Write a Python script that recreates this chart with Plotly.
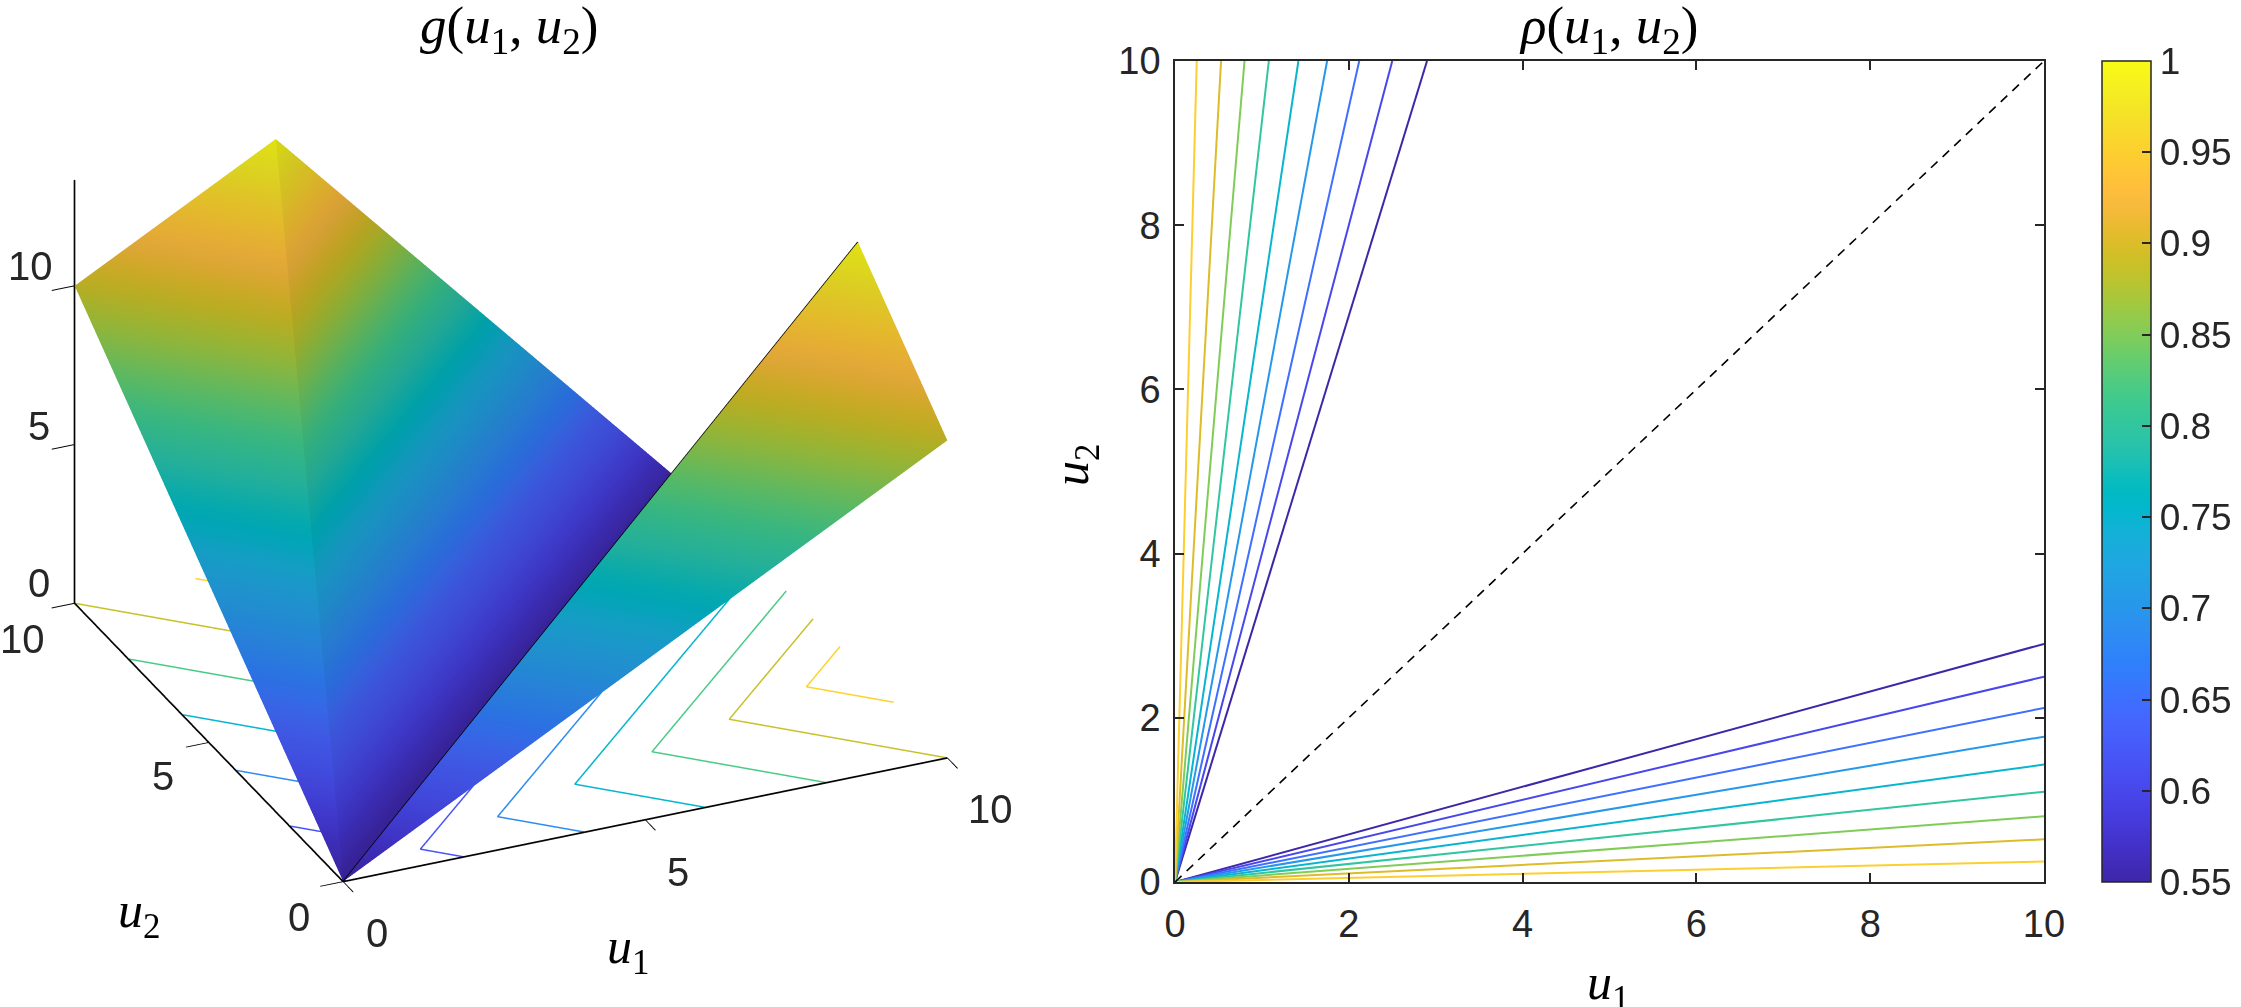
import plotly.graph_objects as go
from plotly.colors import sample_colorscale

PARULA_RGB = [
(0.2422,0.1504,0.6603),(0.2504,0.1650,0.7076),(0.2578,0.1818,0.7511),(0.2647,0.1978,0.7952),
(0.2706,0.2147,0.8364),(0.2751,0.2342,0.8710),(0.2783,0.2559,0.8991),(0.2803,0.2782,0.9221),
(0.2813,0.3006,0.9414),(0.2810,0.3228,0.9579),(0.2795,0.3447,0.9717),(0.2760,0.3667,0.9829),
(0.2699,0.3892,0.9906),(0.2602,0.4123,0.9952),(0.2440,0.4358,0.9988),(0.2206,0.4603,0.9973),
(0.1963,0.4847,0.9892),(0.1834,0.5074,0.9798),(0.1786,0.5289,0.9682),(0.1764,0.5499,0.9520),
(0.1687,0.5703,0.9359),(0.1540,0.5902,0.9218),(0.1460,0.6091,0.9079),(0.1380,0.6276,0.8973),
(0.1248,0.6459,0.8883),(0.1113,0.6635,0.8763),(0.0952,0.6798,0.8598),(0.0689,0.6948,0.8394),
(0.0297,0.7082,0.8163),(0.0036,0.7203,0.7917),(0.0067,0.7312,0.7660),(0.0433,0.7411,0.7394),
(0.0964,0.7500,0.7120),(0.1408,0.7584,0.6842),(0.1717,0.7670,0.6554),(0.1938,0.7758,0.6251),
(0.2161,0.7843,0.5923),(0.2470,0.7918,0.5567),(0.2906,0.7973,0.5188),(0.3406,0.8008,0.4789),
(0.3909,0.8029,0.4354),(0.4456,0.8024,0.3909),(0.5044,0.7993,0.3480),(0.5616,0.7942,0.3045),
(0.6174,0.7876,0.2612),(0.6720,0.7793,0.2227),(0.7242,0.7698,0.1910),(0.7738,0.7598,0.1646),
(0.8203,0.7498,0.1535),(0.8634,0.7406,0.1596),(0.9035,0.7330,0.1774),(0.9393,0.7288,0.2100),
(0.9728,0.7298,0.2394),(0.9956,0.7434,0.2371),(0.9970,0.7659,0.2199),(0.9952,0.7893,0.2028),
(0.9892,0.8136,0.1885),(0.9786,0.8386,0.1766),(0.9676,0.8639,0.1643),(0.9610,0.8890,0.1537),
(0.9597,0.9135,0.1423),(0.9628,0.9373,0.1265),(0.9691,0.9606,0.1064),(0.9769,0.9839,0.0805),
]
N = len(PARULA_RGB) - 1
parula = [[i/N, f"rgb({r*255:.0f},{g*255:.0f},{b*255:.0f})"] for i, (r, g, b) in enumerate(PARULA_RGB)]

def shaded(s):
    return [[i/N, f"rgb({r*255*s:.0f},{g*255*s:.0f},{b*255*s:.0f})"] for i, (r, g, b) in enumerate(PARULA_RGB)]

# left panel: surface vertices
surf_u1 = [0, 0, 3.33, 10, 10, 10]
surf_u2 = [0, 10, 10, 10, 3.33, 0]
surf_g  = [0, 10, 13.33, 0, 13.33, 10]
outer_i, outer_j, outer_k = [0, 0], [1, 4], [2, 5]
inner_i, inner_j, inner_k = [0, 0], [2, 3], [3, 4]

# left panel: contour levels on the floor
floor_levels = [2, 4, 6, 8, 10, 12]
floor_u1 = [[2, 1.5, 10], [4, 3, 10], [6, 4.5, 10], [8, 6, 10], [10, 7.5, 10], [10, 9, 10]]
floor_u2 = [[0, 0.5, 9], [0, 1, 8], [0, 1.5, 7], [0, 2, 6], [0, 2.5, 5], [2, 3, 4]]

# left panel: axis end points
axis_x = [[0, 10], [0, 0], [0, 0]]
axis_y = [[0, 0], [0, 10], [10, 10]]
axis_z = [[0, 0], [0, 0], [0, 13.33]]

# right panel: rays
rho_levels = [0.55, 0.60, 0.65, 0.70, 0.75, 0.80, 0.85, 0.90, 0.95]
lower_end_u2 = [2.90, 2.50, 2.12, 1.77, 1.43, 1.10, 0.80, 0.52, 0.25]
upper_end_u1 = [2.90, 2.50, 2.12, 1.75, 1.42, 1.08, 0.80, 0.53, 0.25]
diag_u = [0, 10]
cbar_ticks = [0.55, 0.6, 0.65, 0.7, 0.75, 0.8, 0.85, 0.9, 0.95, 1]
cbar_labels = ["0.55", "0.6", "0.65", "0.7", "0.75", "0.8", "0.85", "0.9", "0.95", "1"]
axis_ticks = [0, 2, 4, 6, 8, 10]
tick_3d = [0, 5, 10]

W, H = 2241, 1007
INK = "#262626"
TICK = dict(family="Liberation Sans", size=38, color=INK)
CBTICK = dict(family="Liberation Sans", size=37, color=INK)
TICK3 = dict(family="Liberation Sans", size=40, color=INK)
SERIF = "Liberation Serif"
LABEL = dict(family=SERIF, size=50, color="black")
TITLE = dict(family=SERIF, size=53, color="black")
ASPECT = 1.41
FLAT = dict(ambient=1, diffuse=0, specular=0, roughness=1, fresnel=0)

fig = go.Figure()
fig.add_trace(go.Mesh3d(x=surf_u1, y=surf_u2, z=surf_g, i=outer_i, j=outer_j, k=outer_k,
    intensity=surf_g, colorscale=shaded(0.90), cmin=0, cmax=13.33, showscale=False, flatshading=True,
    lighting=FLAT, hoverinfo="skip", scene="scene"))
fig.add_trace(go.Mesh3d(x=surf_u1, y=surf_u2, z=surf_g, i=inner_i, j=inner_j, k=inner_k,
    intensity=surf_g, colorscale=shaded(0.86), cmin=0, cmax=13.33, showscale=False, flatshading=True,
    lighting=FLAT, hoverinfo="skip", scene="scene"))
for lev, a, b in zip(floor_levels, floor_u1, floor_u2):
    col = sample_colorscale(parula, [lev/13.33])[0]
    fig.add_trace(go.Scatter3d(x=a, y=b, z=[0]*3, mode="lines", line=dict(color=col, width=3), showlegend=False, hoverinfo="skip", scene="scene"))
    fig.add_trace(go.Scatter3d(x=b, y=a, z=[0]*3, mode="lines", line=dict(color=col, width=3), showlegend=False, hoverinfo="skip", scene="scene"))
fig.add_trace(go.Scatter3d(x=[surf_u1[0], surf_u1[4]], y=[surf_u2[0], surf_u2[4]], z=[surf_g[0], surf_g[4]], mode="lines",
    line=dict(color="black", width=3), showlegend=False, hoverinfo="skip", scene="scene"))
for ax_a, ax_b, ax_c in zip(axis_x, axis_y, axis_z):
    fig.add_trace(go.Scatter3d(x=ax_a, y=ax_b, z=ax_c, mode="lines", line=dict(color=INK, width=3.5), showlegend=False, hoverinfo="skip", scene="scene"))

for lev, s in zip(rho_levels, lower_end_u2):
    col = sample_colorscale(parula, [(lev-0.55)/0.45])[0]
    fig.add_trace(go.Scatter(x=[0, 10], y=[0, s], mode="lines", line=dict(color=col, width=2), showlegend=False, hoverinfo="skip", xaxis="x", yaxis="y"))
for lev, s in zip(rho_levels, upper_end_u1):
    col = sample_colorscale(parula, [(lev-0.55)/0.45])[0]
    fig.add_trace(go.Scatter(x=[0, s], y=[0, 10], mode="lines", line=dict(color=col, width=2), showlegend=False, hoverinfo="skip", xaxis="x", yaxis="y"))
fig.add_trace(go.Scatter(x=diag_u, y=diag_u, mode="lines", line=dict(color="black", width=1.6, dash="9px,7px"), showlegend=False, hoverinfo="skip", xaxis="x", yaxis="y"))
fig.add_trace(go.Scatter(x=[10]*9, y=lower_end_u2, mode="markers", showlegend=False, hoverinfo="skip", xaxis="x", yaxis="y",
    marker=dict(size=1, color=rho_levels, colorscale=parula, cmin=0.55, cmax=1, showscale=True,
        colorbar=dict(x=2102/W, xanchor="left", xpad=0, ypad=0, y=(H-882)/H, yanchor="bottom", lenmode="pixels", len=821,
            thicknessmode="pixels", thickness=49, tickvals=cbar_ticks, ticktext=cbar_labels, ticks="inside", ticklen=9,
            tickcolor=INK, tickwidth=1.5, outlinecolor=INK, outlinewidth=1.5, tickfont=CBTICK, tickprefix="\u00a0"))))

def ax3(tv, rng):
    return dict(range=rng, tickvals=tv, showticklabels=False, showgrid=False, zeroline=False, showbackground=False,
                showline=True, linecolor="black", linewidth=3, ticks="outside", ticklen=25, tickcolor="black", tickwidth=2,
                showspikes=False, title=dict(text=""), autorange=False)

def scene_tick(x, y, z, text, dx, dy):
    return dict(x=x, y=y, z=z, text=text, showarrow=False, xshift=dx, yshift=dy, font=TICK3, xanchor="center", yanchor="middle")

scene_ann = []
for t, dx, dy in zip(tick_3d, [34, 33, 43], [-51, -52, -51]):
    scene_ann.append(scene_tick(t, 0, 0, str(t), dx, dy))
for t, dx, dy in zip(tick_3d, [-44, -46, -52], [-35, -34, -36]):
    scene_ann.append(scene_tick(0, t, 0, str(t), dx, dy))
for t, dx, dy in zip(tick_3d, [-36, -36, -44], [20, 19, 20]):
    scene_ann.append(scene_tick(0, 10, t, str(t), dx, dy))

def paper_text(text, x, y, font, angle=0):
    return dict(text=text, x=x/W, y=1-y/H, xref="paper", yref="paper", showarrow=False, font=font, xanchor="center", yanchor="middle", textangle=angle)

fig.update_layout(
    width=W, height=H, margin=dict(l=0, r=0, t=0, b=0, autoexpand=False), paper_bgcolor="white", plot_bgcolor="white", showlegend=False,
    font=dict(family="Liberation Sans", color=INK),
    scene=dict(domain=dict(x=[0, 1022/W], y=[1-938/H, 1]),
        xaxis=ax3(tick_3d, [0, 10]), yaxis=ax3(tick_3d, [0, 10]), zaxis=ax3(tick_3d, [0, 13.33]),
        aspectmode="manual", aspectratio=dict(x=ASPECT, y=ASPECT, z=0.721*ASPECT), bgcolor="white", annotations=scene_ann,
        camera=dict(projection=dict(type="orthographic"), up=dict(x=0, y=0, z=1), center=dict(x=0, y=0, z=0),
                    eye=dict(x=-0.36*1.363, y=-0.81*1.363, z=0.46*1.363))),
    xaxis=dict(domain=[1175/W, 2044/W], range=[0, 10], tickvals=axis_ticks, ticks="inside", ticklen=9, tickcolor=INK, tickwidth=1.5,
               showgrid=False, zeroline=False, showline=True, linecolor=INK, linewidth=1.5, mirror="allticks", tickfont=TICK, anchor="y", ticklabelstandoff=8),
    yaxis=dict(domain=[(H-882)/H, (H-61)/H], range=[0, 10], tickvals=axis_ticks, ticks="inside", ticklen=9, tickcolor=INK, tickwidth=1.5,
               showgrid=False, zeroline=False, showline=True, linecolor=INK, linewidth=1.5, mirror="allticks", tickfont=TICK, anchor="x", ticklabelstandoff=5),
    annotations=[
        paper_text("<i>g</i>(<i>u</i><sub>1</sub>, <i>u</i><sub>2</sub>)", 509, 29, TITLE),
        paper_text("<i>ρ</i>(<i>u</i><sub>1</sub>, <i>u</i><sub>2</sub>)", 1608, 29, TITLE),
        paper_text("<i>u</i><sub>1</sub>", 629, 950, LABEL),
        paper_text("<i>u</i><sub>2</sub>", 139, 914, LABEL),
        paper_text("<i>u</i><sub>1</sub>", 1608, 986, LABEL),
        paper_text("<i>u</i><sub>2</sub>", 1075, 465, LABEL, -90),
    ],
)
fig.write_html("out.html", config=dict(displayModeBar=False),
               post_script="document.body.style.margin='0';window.dispatchEvent(new Event('resize'));")
